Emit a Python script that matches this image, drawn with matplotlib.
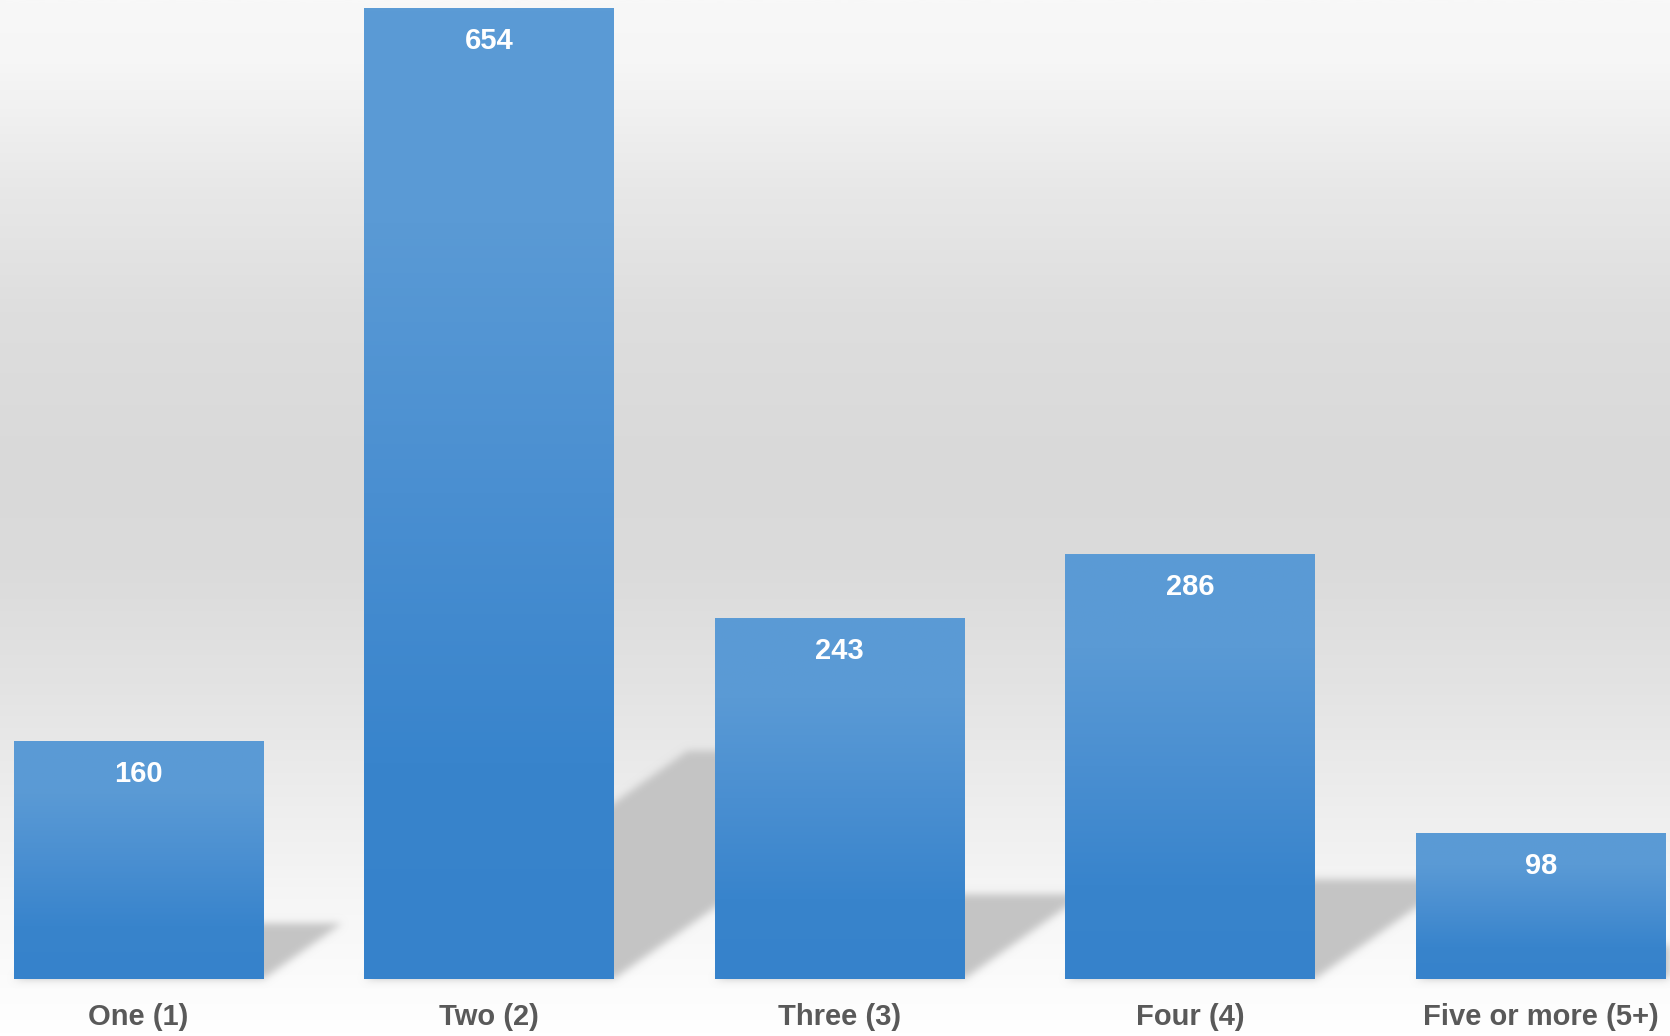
### Bar chart with gradient bars and soft floor shadows ###
import numpy as np
import matplotlib
matplotlib.use('Agg')
import matplotlib.pyplot as plt
from matplotlib.colors import LinearSegmentedColormap
from matplotlib.patches import Polygon

##### data #####
categories = ['One (1)', 'Two (2)', 'Three (3)', 'Four (4)', 'Five or more (5+)']
counts = [160, 654, 243, 286, 98]

##### style constants #####
plt.rcParams['font.family'] = ['Liberation Sans', 'DejaVu Sans']
bar_width = 0.711
shadow_height = 0.235   # shadow height relative to bar height
shadow_skew = 0.006     # x shift (data units) per unit of shadow height
shadow_grey = 196 / 255
label_grey = '#595959'


def blur_shadow(im, dpi, sigma=4.0):
    '''Gaussian blur of the alpha channel, used as agg_filter on the shadows'''
    pad = int(3 * sigma)
    alpha = np.pad(im[:, :, 3], pad)
    k = np.exp(-0.5 * (np.arange(-pad, pad + 1) / sigma) ** 2)
    k /= k.sum()
    tmp = np.zeros_like(alpha)
    for i, kv in enumerate(k):
        tmp += kv * np.roll(alpha, i - pad, axis=0)
    out_a = np.zeros_like(tmp)
    for i, kv in enumerate(k):
        out_a += kv * np.roll(tmp, i - pad, axis=1)
    out = np.zeros(alpha.shape + (4,))
    out[:, :, :3] = shadow_grey
    out[:, :, 3] = out_a
    return out, -pad, -pad


fig = plt.figure(figsize=(16.7, 10.36), dpi=100)

# background gradient (light top, grey middle, white bottom)
bg = fig.add_axes([0, 0, 1, 1], zorder=0)
bg_cmap = LinearSegmentedColormap.from_list('bg', [
    (0.0, '#F8F8F8'), (0.06, '#F6F6F6'), (0.18, '#E8E8E8'), (0.30, '#DEDEDE'),
    (0.45, '#D9D9D9'), (0.55, '#DBDBDB'), (0.66, '#E3E3E3'), (0.78, '#EEEEEE'),
    (0.87, '#F6F6F6'), (1.0, '#FFFFFF')])
bg.imshow(np.linspace(0, 1, 512).reshape(-1, 1), aspect='auto', cmap=bg_cmap,
          extent=(0, 1, 0, 1), origin='upper')
bg.axis('off')

ax = fig.add_axes([0, 0.055, 1, 0.945], zorder=1)
ax.patch.set_alpha(0)

x = np.arange(len(counts))
bars = ax.bar(x, counts, width=bar_width, color='none', zorder=3)

bar_cmap = LinearSegmentedColormap.from_list('bar', [
    (0.0, '#5B9BD5'), (0.22, '#5A9AD5'), (0.5, '#4A8FD1'), (0.78, '#3884CC'), (1.0, '#3682CB')])
grad = np.linspace(0, 1, 256).reshape(-1, 1)

for bar, v in zip(bars, counts):
    x0 = bar.get_x()
    x1 = x0 + bar.get_width()
    im = ax.imshow(grad, extent=(x0, x1, 0, v), origin='upper', aspect='auto',
                   cmap=bar_cmap, zorder=3)
    im.set_clip_path(bar)

    # skewed floor shadow behind the bar
    dy = shadow_height * v
    dx = shadow_skew * dy
    shadow = Polygon([(x0, 0), (x1, 0), (x1 + dx, dy), (x0 + dx, dy)],
                     closed=True, facecolor='#C4C4C4', edgecolor='none', zorder=2)
    shadow.set_agg_filter(blur_shadow)
    ax.add_patch(shadow)

    ax.annotate(str(v), (bar.get_x() + bar.get_width() / 2, v), xytext=(0, -29.5),
                textcoords='offset points', ha='center', va='baseline',
                color='white', fontsize=21, fontweight='bold', zorder=4)

ax.set_xlim(-0.395, 4.369)
ax.set_ylim(0, 659.3)
ax.set_xticks(x, categories, fontsize=21, fontweight='bold', color=label_grey)
ax.set_yticks([])
ax.tick_params(axis='x', length=0, pad=17)
for s in ax.spines.values():
    s.set_visible(False)

fig.savefig('out.png', dpi=100)
